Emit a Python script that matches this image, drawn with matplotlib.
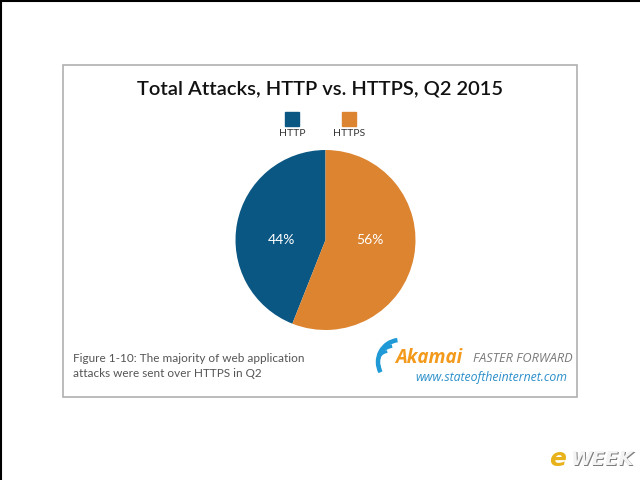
import matplotlib.pyplot as plt
from matplotlib.patches import Rectangle, Arc

# chart data
labels = ["HTTP", "HTTPS"]
shares = [44, 56]
colors = ["#0b5783", "#dc8430"]

title = "Total Attacks, HTTP vs. HTTPS, Q2 2015"
caption = "Figure 1-10: The majority of web application\nattacks were sent over HTTPS in Q2"

W, H = 640, 480


def fx(px):
    return px / W


def fy(py):
    return 1 - py / H


fig = plt.figure(figsize=(6.4, 4.8), dpi=100)
fig.patch.set_facecolor("white")

# image edge lines (top / left) and inner frame
fig.add_artist(plt.Line2D([0, 1], [fy(1), fy(1)], color="black", lw=1.5))
fig.add_artist(plt.Line2D([fx(1), fx(1)], [0, 1], color="black", lw=1.5))
fig.add_artist(Rectangle((fx(63), fy(397)), fx(577) - fx(63), fy(65) - fy(397),
                         fill=False, edgecolor="#b0b0b0", lw=1.2,
                         transform=fig.transFigure))

fig.text(fx(320), fy(89), title, ha="center", va="center",
         fontsize=14.5, family="Lato", weight="semibold", color="#111111")

# legend squares with labels beneath
leg_x = [292, 349]
for lab, col, x in zip(labels, colors, leg_x):
    fig.add_artist(Rectangle((fx(x - 7), fy(126)), fx(14), fy(112) - fy(126),
                             color=col, transform=fig.transFigure))
    fig.text(fx(x), fy(134), lab, ha="center", va="center",
             fontsize=7.5, family="Lato", color="#333333")

# pie
r = 90
cx, cy = 325.5, 240
ax = fig.add_axes([fx(cx - r), fy(cy + r), 2 * r / W, 2 * r / H])
wedges, texts, autotexts = ax.pie(
    shares, colors=colors, startangle=90, counterclock=True,
    autopct="%d%%", pctdistance=0.5,
    textprops=dict(color="white", fontsize=10, family="Lato"),
    wedgeprops=dict(linewidth=0))
# the original puts both percentages on the horizontal midline
for t in autotexts:
    t.set_y(0)
ax.set_xlim(-1, 1)
ax.set_ylim(-1, 1)
ax.set_aspect("equal")

# caption
fig.text(fx(73), fy(366), caption, ha="left", va="center",
         fontsize=8.5, family="Lato", color="#555555", linespacing=1.5)

# Akamai branding
for rad, lw in [(22, 3.2), (16, 2.6), (10.5, 2.0)]:
    arc = Arc((fx(378 + rad), fy(362)), 2 * rad / W, 2 * rad / H,
              theta1=95, theta2=215, color="#1f9ad6", lw=lw,
              transform=fig.transFigure)
    fig.add_artist(arc)
fig.text(fx(395), fy(358), "Akamai", ha="left", va="center", fontsize=13.5,
         family="Open Sans", weight="bold", style="italic", color="#f39a1c")
fig.text(fx(473), fy(359), "FASTER FORWARD", ha="left", va="center",
         fontsize=9.2, family="Open Sans", style="italic", color="#7a7a7a")
fig.text(fx(567), fy(378), "www.stateoftheinternet.com", ha="right",
         va="center", fontsize=8.8, family="Open Sans", style="italic",
         color="#2a8fc9")

# eWEEK badge
fig.text(fx(549), fy(459), "e", ha="left", va="center", fontsize=18,
         family="DejaVu Sans", weight="bold", style="italic", color="#e8b21a")
fig.text(fx(572), fy(461), "WEEK", ha="left", va="center", fontsize=14,
         family="DejaVu Sans", weight="bold", style="italic", color="#7d7d7d")
fig.text(fx(570.5), fy(459.5), "WEEK", ha="left", va="center", fontsize=14,
         family="DejaVu Sans", weight="bold", style="italic", color="#f4f4f4")

fig.savefig("out.png", dpi=100, facecolor="white")
